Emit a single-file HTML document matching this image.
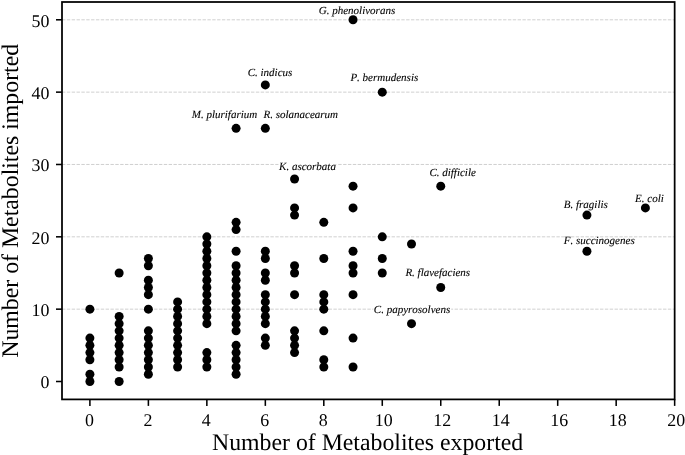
<!DOCTYPE html>
<html><head><meta charset="utf-8"><title>Metabolites</title>
<style>html,body{margin:0;padding:0;background:#fff;}svg{display:block;will-change:transform;}text{font-family:"Liberation Serif",serif;fill:#000;text-rendering:geometricPrecision;}.t{font-size:17.9px;}.a{font-size:23.8px;}.l{font-size:11px;font-style:italic;font-kerning:none;stroke:#000;stroke-width:0.1px;}</style></head><body>
<svg width="685" height="455" viewBox="0 0 685 455">
<rect width="685" height="455" fill="#fff"/>
<g stroke="#cccccc" stroke-width="0.92" stroke-dasharray="3.385 1.462" fill="none">
<line x1="62.00" y1="309.16" x2="674.65" y2="309.16"/>
<line x1="62.00" y1="236.82" x2="674.65" y2="236.82"/>
<line x1="62.00" y1="164.48" x2="674.65" y2="164.48"/>
<line x1="62.00" y1="92.14" x2="674.65" y2="92.14"/>
<line x1="62.00" y1="19.80" x2="674.65" y2="19.80"/>
</g>
<g fill="#000">
<circle cx="89.90" cy="381.50" r="4.50"/>
<circle cx="89.90" cy="374.27" r="4.50"/>
<circle cx="89.90" cy="359.80" r="4.50"/>
<circle cx="89.90" cy="352.56" r="4.50"/>
<circle cx="89.90" cy="345.33" r="4.50"/>
<circle cx="89.90" cy="338.10" r="4.50"/>
<circle cx="89.90" cy="309.16" r="4.50"/>
<circle cx="119.14" cy="381.50" r="4.50"/>
<circle cx="119.14" cy="367.03" r="4.50"/>
<circle cx="119.14" cy="359.80" r="4.50"/>
<circle cx="119.14" cy="352.56" r="4.50"/>
<circle cx="119.14" cy="345.33" r="4.50"/>
<circle cx="119.14" cy="338.10" r="4.50"/>
<circle cx="119.14" cy="330.86" r="4.50"/>
<circle cx="119.14" cy="323.63" r="4.50"/>
<circle cx="119.14" cy="316.39" r="4.50"/>
<circle cx="119.14" cy="272.99" r="4.50"/>
<circle cx="148.38" cy="374.27" r="4.50"/>
<circle cx="148.38" cy="367.03" r="4.50"/>
<circle cx="148.38" cy="359.80" r="4.50"/>
<circle cx="148.38" cy="352.56" r="4.50"/>
<circle cx="148.38" cy="345.33" r="4.50"/>
<circle cx="148.38" cy="338.10" r="4.50"/>
<circle cx="148.38" cy="330.86" r="4.50"/>
<circle cx="148.38" cy="309.16" r="4.50"/>
<circle cx="148.38" cy="294.69" r="4.50"/>
<circle cx="148.38" cy="287.46" r="4.50"/>
<circle cx="148.38" cy="280.22" r="4.50"/>
<circle cx="148.38" cy="265.76" r="4.50"/>
<circle cx="148.38" cy="258.52" r="4.50"/>
<circle cx="177.61" cy="367.03" r="4.50"/>
<circle cx="177.61" cy="359.80" r="4.50"/>
<circle cx="177.61" cy="352.56" r="4.50"/>
<circle cx="177.61" cy="345.33" r="4.50"/>
<circle cx="177.61" cy="338.10" r="4.50"/>
<circle cx="177.61" cy="330.86" r="4.50"/>
<circle cx="177.61" cy="323.63" r="4.50"/>
<circle cx="177.61" cy="316.39" r="4.50"/>
<circle cx="177.61" cy="309.16" r="4.50"/>
<circle cx="177.61" cy="301.93" r="4.50"/>
<circle cx="206.85" cy="367.03" r="4.50"/>
<circle cx="206.85" cy="359.80" r="4.50"/>
<circle cx="206.85" cy="352.56" r="4.50"/>
<circle cx="206.85" cy="323.63" r="4.50"/>
<circle cx="206.85" cy="316.39" r="4.50"/>
<circle cx="206.85" cy="309.16" r="4.50"/>
<circle cx="206.85" cy="301.93" r="4.50"/>
<circle cx="206.85" cy="294.69" r="4.50"/>
<circle cx="206.85" cy="287.46" r="4.50"/>
<circle cx="206.85" cy="280.22" r="4.50"/>
<circle cx="206.85" cy="272.99" r="4.50"/>
<circle cx="206.85" cy="265.76" r="4.50"/>
<circle cx="206.85" cy="258.52" r="4.50"/>
<circle cx="206.85" cy="251.29" r="4.50"/>
<circle cx="206.85" cy="244.05" r="4.50"/>
<circle cx="206.85" cy="236.82" r="4.50"/>
<circle cx="236.09" cy="374.27" r="4.50"/>
<circle cx="236.09" cy="367.03" r="4.50"/>
<circle cx="236.09" cy="359.80" r="4.50"/>
<circle cx="236.09" cy="352.56" r="4.50"/>
<circle cx="236.09" cy="345.33" r="4.50"/>
<circle cx="236.09" cy="330.86" r="4.50"/>
<circle cx="236.09" cy="323.63" r="4.50"/>
<circle cx="236.09" cy="316.39" r="4.50"/>
<circle cx="236.09" cy="309.16" r="4.50"/>
<circle cx="236.09" cy="301.93" r="4.50"/>
<circle cx="236.09" cy="294.69" r="4.50"/>
<circle cx="236.09" cy="287.46" r="4.50"/>
<circle cx="236.09" cy="280.22" r="4.50"/>
<circle cx="236.09" cy="272.99" r="4.50"/>
<circle cx="236.09" cy="265.76" r="4.50"/>
<circle cx="236.09" cy="251.29" r="4.50"/>
<circle cx="236.09" cy="229.59" r="4.50"/>
<circle cx="236.09" cy="222.35" r="4.50"/>
<circle cx="236.09" cy="128.31" r="4.50"/>
<circle cx="265.33" cy="345.33" r="4.50"/>
<circle cx="265.33" cy="338.10" r="4.50"/>
<circle cx="265.33" cy="323.63" r="4.50"/>
<circle cx="265.33" cy="316.39" r="4.50"/>
<circle cx="265.33" cy="309.16" r="4.50"/>
<circle cx="265.33" cy="301.93" r="4.50"/>
<circle cx="265.33" cy="294.69" r="4.50"/>
<circle cx="265.33" cy="280.22" r="4.50"/>
<circle cx="265.33" cy="272.99" r="4.50"/>
<circle cx="265.33" cy="258.52" r="4.50"/>
<circle cx="265.33" cy="251.29" r="4.50"/>
<circle cx="265.33" cy="128.31" r="4.50"/>
<circle cx="265.33" cy="84.91" r="4.50"/>
<circle cx="294.56" cy="352.56" r="4.50"/>
<circle cx="294.56" cy="345.33" r="4.50"/>
<circle cx="294.56" cy="338.10" r="4.50"/>
<circle cx="294.56" cy="330.86" r="4.50"/>
<circle cx="294.56" cy="294.69" r="4.50"/>
<circle cx="294.56" cy="272.99" r="4.50"/>
<circle cx="294.56" cy="265.76" r="4.50"/>
<circle cx="294.56" cy="215.12" r="4.50"/>
<circle cx="294.56" cy="207.88" r="4.50"/>
<circle cx="294.56" cy="178.95" r="4.50"/>
<circle cx="323.80" cy="367.03" r="4.50"/>
<circle cx="323.80" cy="359.80" r="4.50"/>
<circle cx="323.80" cy="330.86" r="4.50"/>
<circle cx="323.80" cy="309.16" r="4.50"/>
<circle cx="323.80" cy="301.93" r="4.50"/>
<circle cx="323.80" cy="294.69" r="4.50"/>
<circle cx="323.80" cy="258.52" r="4.50"/>
<circle cx="323.80" cy="222.35" r="4.50"/>
<circle cx="353.04" cy="367.03" r="4.50"/>
<circle cx="353.04" cy="338.10" r="4.50"/>
<circle cx="353.04" cy="294.69" r="4.50"/>
<circle cx="353.04" cy="272.99" r="4.50"/>
<circle cx="353.04" cy="265.76" r="4.50"/>
<circle cx="353.04" cy="251.29" r="4.50"/>
<circle cx="353.04" cy="207.88" r="4.50"/>
<circle cx="353.04" cy="186.18" r="4.50"/>
<circle cx="353.04" cy="19.80" r="4.50"/>
<circle cx="382.27" cy="272.99" r="4.50"/>
<circle cx="382.27" cy="258.52" r="4.50"/>
<circle cx="382.27" cy="236.82" r="4.50"/>
<circle cx="382.27" cy="92.14" r="4.50"/>
<circle cx="411.51" cy="323.63" r="4.50"/>
<circle cx="411.51" cy="244.05" r="4.50"/>
<circle cx="440.75" cy="287.46" r="4.50"/>
<circle cx="440.75" cy="186.18" r="4.50"/>
<circle cx="586.94" cy="251.29" r="4.50"/>
<circle cx="586.94" cy="215.12" r="4.50"/>
<circle cx="645.41" cy="207.88" r="4.50"/>
</g>
<g fill="#fff">
<rect x="278.70" y="162.25" width="57.80" height="7.90"/>
<rect x="373.40" y="304.90" width="77.80" height="7.90"/>
</g>
<rect x="62.00" y="2.00" width="612.65" height="397.40" fill="none" stroke="#000" stroke-width="1.75"/>
<g stroke="#000" stroke-width="1.55">
<line x1="89.90" y1="399.40" x2="89.90" y2="405.90"/>
<line x1="148.38" y1="399.40" x2="148.38" y2="405.90"/>
<line x1="206.85" y1="399.40" x2="206.85" y2="405.90"/>
<line x1="265.33" y1="399.40" x2="265.33" y2="405.90"/>
<line x1="323.80" y1="399.40" x2="323.80" y2="405.90"/>
<line x1="382.27" y1="399.40" x2="382.27" y2="405.90"/>
<line x1="440.75" y1="399.40" x2="440.75" y2="405.90"/>
<line x1="499.23" y1="399.40" x2="499.23" y2="405.90"/>
<line x1="557.70" y1="399.40" x2="557.70" y2="405.90"/>
<line x1="616.17" y1="399.40" x2="616.17" y2="405.90"/>
<line x1="674.65" y1="399.40" x2="674.65" y2="405.90"/>
<line x1="56.00" y1="381.50" x2="62.00" y2="381.50"/>
<line x1="56.00" y1="309.16" x2="62.00" y2="309.16"/>
<line x1="56.00" y1="236.82" x2="62.00" y2="236.82"/>
<line x1="56.00" y1="164.48" x2="62.00" y2="164.48"/>
<line x1="56.00" y1="92.14" x2="62.00" y2="92.14"/>
<line x1="56.00" y1="19.80" x2="62.00" y2="19.80"/>
</g>
<g class="t">
<text x="89.40" y="426.40" text-anchor="middle">0</text>
<text x="147.88" y="426.40" text-anchor="middle">2</text>
<text x="206.35" y="426.40" text-anchor="middle">4</text>
<text x="264.83" y="426.40" text-anchor="middle">6</text>
<text x="323.30" y="426.40" text-anchor="middle">8</text>
<text x="383.77" y="426.40" text-anchor="middle">10</text>
<text x="442.25" y="426.40" text-anchor="middle">12</text>
<text x="500.73" y="426.40" text-anchor="middle">14</text>
<text x="559.20" y="426.40" text-anchor="middle">16</text>
<text x="617.67" y="426.40" text-anchor="middle">18</text>
<text x="676.15" y="426.40" text-anchor="middle">20</text>
<text x="49.40" y="388.30" text-anchor="end">0</text>
<text x="49.40" y="315.96" text-anchor="end">10</text>
<text x="49.40" y="243.62" text-anchor="end">20</text>
<text x="49.40" y="171.28" text-anchor="end">30</text>
<text x="49.40" y="98.94" text-anchor="end">40</text>
<text x="49.40" y="26.60" text-anchor="end">50</text>
</g>
<text class="a" x="367.60" y="449.70" text-anchor="middle">Number of Metabolites exported</text>
<text class="a" transform="translate(18.20 200.80) rotate(-90)" text-anchor="middle">Number of Metabolites imported</text>
<g class="l">
<text x="318.80" y="14.30">G. phenolivorans</text>
<text x="247.70" y="76.10">C. indicus</text>
<text x="350.40" y="81.10">P. bermudensis</text>
<text x="191.80" y="118.10">M. plurifarium</text>
<text x="263.50" y="118.10">R. solanacearum</text>
<text x="279.10" y="170.15">K. ascorbata</text>
<text x="429.40" y="175.90">C. difficile</text>
<text x="563.80" y="207.50">B. fragilis</text>
<text x="635.10" y="202.10">E. coli</text>
<text x="563.80" y="244.30">F. succinogenes</text>
<text x="405.40" y="275.80">R. flavefaciens</text>
<text x="373.80" y="312.80">C. papyrosolvens</text>
</g>
</svg></body></html>
